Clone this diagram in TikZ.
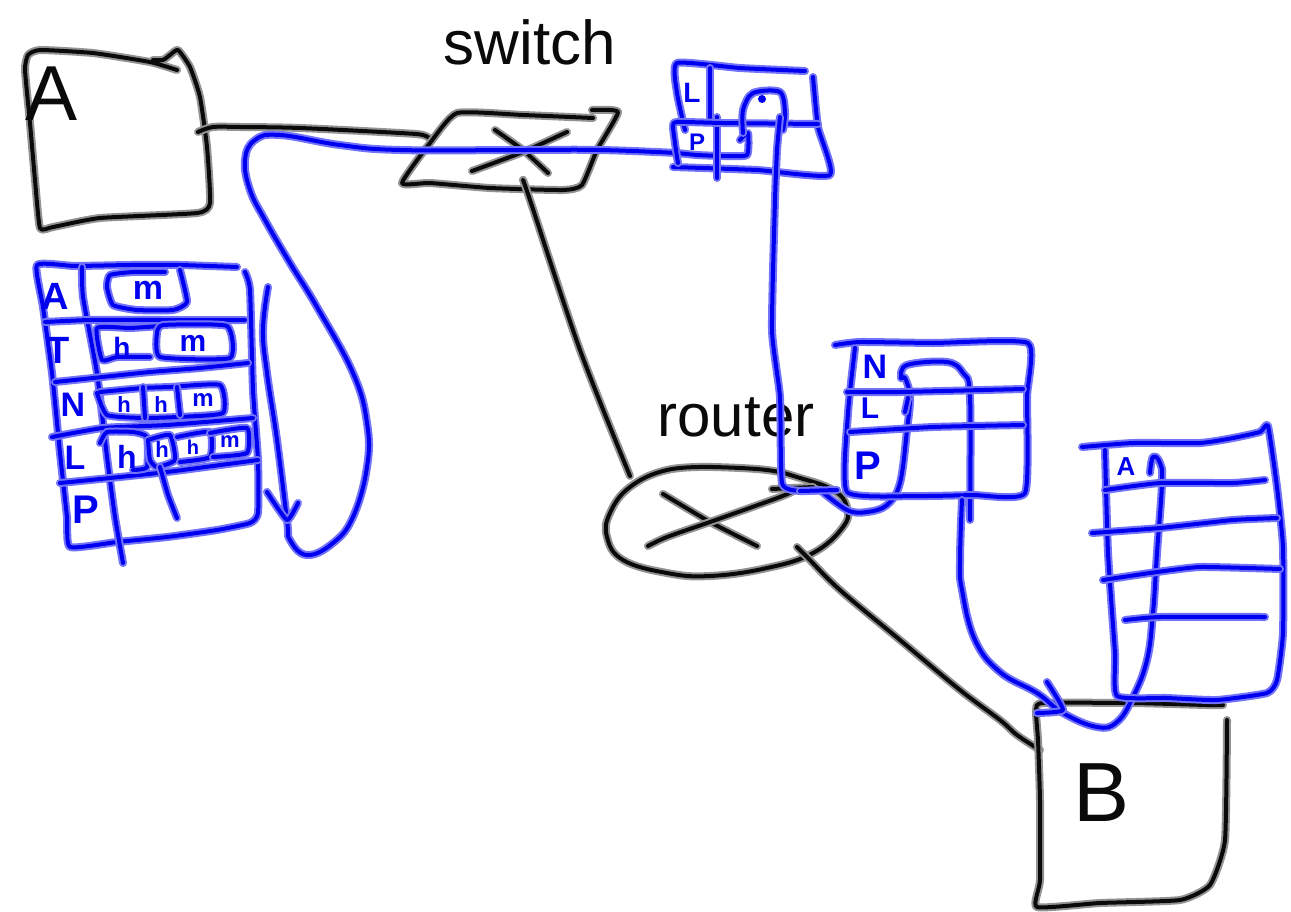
\documentclass[tikz,border=0pt]{standalone}
\usepackage{fontspec}
\setmainfont{Liberation Sans}
\definecolor{inkblue}{RGB}{0,0,240}
\definecolor{inkblack}{RGB}{10,10,10}
\tikzset{
  strokebase/.style={line cap=round,line join=round},
  haloK/.style={strokebase,draw=gray!85,line width=8pt},
  coreK/.style={strokebase,draw=inkblack,line width=4pt},
  haloB/.style={strokebase,draw=inkblue!55,line width=8pt},
  coreB/.style={strokebase,draw=inkblue,line width=4pt},
  labelK/.style={inner sep=0pt,text=inkblack},
  labelB/.style={inner sep=0pt,text=inkblue,font=\bfseries}
}
\newcommand\inkK[2][0.3]{\draw[haloK] plot[smooth,tension=#1] coordinates {#2};\draw[coreK] plot[smooth,tension=#1] coordinates {#2};}
\newcommand\inkB[2][0.3]{\draw[haloB] plot[smooth,tension=#1] coordinates {#2};\draw[coreB] plot[smooth,tension=#1] coordinates {#2};}
\newcommand\fs[1]{\fontsize{#1}{#1}\selectfont}
\begin{document}
\begin{tikzpicture}[x=1pt,y=-1pt]
\useasboundingbox (0,0) rectangle (1291,911);
\fill[white] (0,0) rectangle (1291,911);
% --- black: host A
\inkK{(177,70)(150,62)(93,53)(40,50)(28,55)(25,70)(30,123)(35,180)(40,228)(53,227)(100,218)(197,213)(210,203)(207,147)(200,97)(190,67)(178,50)(170,55)(163,60)(153,60)}
\inkK[0.5]{(198,132)(213,127)(240,127)(300,128)(400,133)(423,135)(432,140)}
\node[labelK] (hostA) at (52,94) {\fs{78}A};
% switch
\inkK{(593,118)(523,115)(457,113)(430,143)(402,183)(430,183)(490,188)(563,190)(582,185)(597,150)(618,112)(592,110)}
\inkK{(495,130)(523,150)(548,173)}
\inkK{(567,132)(523,152)(472,171)}
\inkK[0.5]{(523,180)(530,200)(580,350)(630,476)}
\node[labelK] (switchlabel) at (530,42) {\fs{62}switch};
% router
\inkK[0.7]{(713,467)(667,470)(630,487)(610,513)(607,537)(623,560)(667,573)(710,576)(767,568)(813,553)(843,527)(847,507)(833,490)(800,478)(767,470)(713,467)}
\inkK{(663,494)(710,522)(757,546)}
\inkK[0.5]{(648,546)(667,537)(710,522)(780,497)(795,490)}
\inkK{(772,489)(813,487)}
\inkK[0.6]{(797,547)(807,557)(840,590)(900,640)(960,690)(1000,720)(1017,735)(1040,750)}
\node[labelK] (routerlabel) at (736,417) {\fs{60}router};
% host B
\inkK{(1223,705)(1207,705)(1133,703)(1043,703)(1036,710)(1038,740)(1040,800)(1040,880)(1037,907)(1100,903)(1180,900)(1210,885)(1225,840)(1227,720)}
\node[labelK] (hostB) at (1102,793) {\fs{84}B};
% --- blue: table at A
\inkB{(237,267)(180,265)(130,265)(75,266)(37,265)(43,307)(52,373)(60,453)(67,517)(70,547)(117,542)(167,537)(217,530)(250,523)(258,513)(258,460)(253,390)(250,290)(245,272)}
\inkB{(82,267)(83,297)(97,373)(107,457)(115,517)(123,563)}
\inkB{(45,322)(90,320)(167,320)(245,320)}
\inkB{(55,382)(93,378)(150,372)(200,368)(248,363)}
\inkB{(52,437)(103,428)(167,425)(253,418)}
\inkB{(60,483)(110,478)(167,472)(258,460)}
\inkB{(165,272)(133,272)(110,275)(107,287)(113,305)(137,310)(173,310)(187,302)(180,270)}
\inkB{(150,357)(117,357)(102,360)(97,328)(130,328)(160,326)}
\inkB{(157,333)(163,325)(227,326)(230,358)(160,357)(157,333)}
\inkB{(97,393)(107,415)(143,418)(177,417)(223,413)(220,385)(170,387)(143,388)(100,392)}
\inkB{(143,387)(145,418)}
\inkB{(177,387)(180,415)}
\inkB{(100,443)(107,432)(133,432)(147,437)(147,467)(133,470)}
\inkB{(148,440)(170,435)(175,460)(157,467)(150,460)(148,440)}
\inkB{(177,437)(210,432)(210,457)(180,462)}
\inkB{(210,433)(247,428)(247,453)(213,457)}
\inkB{(160,467)(168,495)(177,518)}
\node[labelB] (tA) at (55,296) {\fs{38}A};
\node[labelB] (tT) at (58,350) {\fs{38}T};
\node[labelB] (tN) at (73,405) {\fs{34}N};
\node[labelB] (tL) at (75,458) {\fs{34}L};
\node[labelB] (tP) at (86,510) {\fs{40}P};
\node[labelB] (a1) at (148,290) {\fs{34}m};
\node[labelB] (t1) at (122,347) {\fs{28}h};
\node[labelB] (t2) at (193,343) {\fs{30}m};
\node[labelB] (n1) at (124,405) {\fs{22}h};
\node[labelB] (n2) at (161,405) {\fs{22}h};
\node[labelB] (n3) at (203,400) {\fs{24}m};
\node[labelB] (l1) at (127,457) {\fs{32}h};
\node[labelB] (l2) at (162,450) {\fs{22}h};
\node[labelB] (l3) at (193,447) {\fs{20}h};
\node[labelB] (l4) at (230,442) {\fs{22}m};
% arrow beside table and long route
\inkB[0.7]{(268,287)(263,330)(267,373)(277,440)(287,520)(290,540)(307,555)(333,543)(353,517)(367,467)(367,423)(353,373)(317,307)(290,263)(265,220)(250,190)(245,160)(255,140)(280,135)(340,145)(400,150)(520,150)(600,150)(677,153)}
\inkB{(677,153)(697,155)(723,156)(747,155)(748,133)(740,140)}
\inkB{(267,492)(287,520)(298,503)}
% switch table
\inkB{(805,71)(740,68)(677,63)(677,93)(685,130)}
\inkB{(813,77)(818,127)(830,175)(757,170)(673,167)}
\inkB{(710,68)(710,122)}
\inkB{(717,117)(717,178)}
\inkB{(678,163)(677,157)(673,127)(677,122)(723,123)(818,124)}
\inkB[0.5]{(743,133)(743,110)(753,93)(780,92)(785,113)(783,130)}
\inkB{(780,117)(777,150)(775,200)(772,330)(780,397)(782,483)(800,491)(820,490)}
\inkB[0.6]{(820,490)(847,510)(867,512)(887,505)(900,483)(907,430)(910,397)(905,378)(901,378)(907,365)(947,362)(963,373)(970,397)(970,520)}
\inkB{(800,491)(837,490)}
\inkB{(908,398)(905,412)}
\fill[inkblue] (762,99) circle[radius=4pt];
\node[labelB] (sL) at (692,93) {\fs{28}L};
\node[labelB] (sP) at (697,142) {\fs{24}P};
% router table
\inkB{(835,345)(860,342)(933,343)(1028,343)(1027,397)(1025,493)(973,495)(917,496)(847,492)(848,413)(855,348)}
\inkB{(847,392)(900,392)(1023,389)}
\inkB{(850,432)(933,427)(1023,425)}
\node[labelB] (rN) at (875,367) {\fs{34}N};
\node[labelB] (rL) at (870,408) {\fs{30}L};
\node[labelB] (rP) at (868,466) {\fs{40}P};
\inkB[0.7]{(962,500)(960,560)(962,590)(975,640)(1000,672)(1037,693)(1063,713)(1097,727)(1117,722)(1133,697)(1147,660)(1153,613)(1157,553)(1162,483)(1160,463)(1153,457)(1150,473)}
\inkB{(1047,682)(1063,710)(1037,713)}
% table at B
\inkB{(1082,447)(1133,443)(1200,443)(1233,438)(1260,432)(1268,426)(1277,487)(1283,547)(1283,633)(1277,680)(1267,693)(1217,700)(1167,698)(1117,696)(1115,653)(1108,553)(1105,450)}
\inkB{(1105,490)(1160,483)(1233,483)(1265,480)}
\inkB{(1092,533)(1160,528)(1233,520)(1277,518)}
\inkB{(1103,580)(1150,573)(1200,567)(1280,569)}
\inkB{(1125,620)(1160,617)(1265,617)}
\node[labelB] (bA) at (1126,467) {\fs{26}A};
\end{tikzpicture}
\end{document}
